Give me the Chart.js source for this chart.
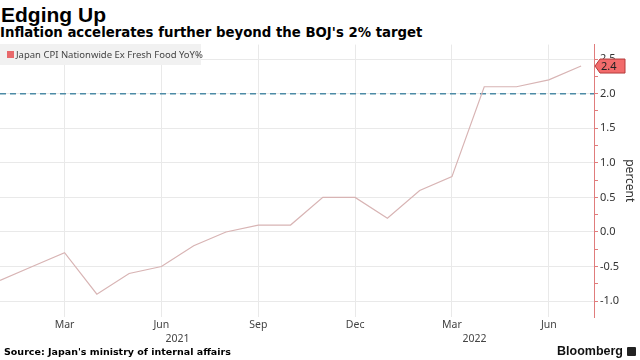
<!DOCTYPE html>
<html>
<head>
<meta charset="utf-8">
<script src="https://cdn.jsdelivr.net/npm/chart.js@4/dist/chart.umd.min.js"></script>
<style>
  body { margin: 0; width: 640px; height: 360px; background: #fff; position: relative; overflow: hidden; font-family: "Liberation Sans", sans-serif; }
  #title { position: absolute; left: 1px; top: 3px; font: bold 21px "Liberation Sans", sans-serif; color: #000; }
  #subtitle { position: absolute; left: 0; top: 25px; font: bold 13.3px "DejaVu Sans", sans-serif; color: #000; white-space: nowrap; }
  #wrap { position: absolute; left: 0; top: 36px; width: 640px; height: 312px; }
  #legend { position: absolute; left: 0; top: 44px; width: 201px; height: 21px; background: #f1f1f1; font: 9.5px "Noto Sans", sans-serif; color: #444; line-height: 21px; white-space: nowrap; }
  #legend i { position: absolute; left: 7px; top: 7px; width: 7px; height: 7px; background: #e8696b; }
  #legend span { position: absolute; left: 16px; top: 0; }
  #source { position: absolute; left: 4px; top: 346px; font: bold 9.5px "DejaVu Sans", sans-serif; color: #000; white-space: nowrap; }
  #brand { position: absolute; right: 17px; top: 344px; font: bold 12.5px "Liberation Sans", sans-serif; color: #111; }
  #logo { position: absolute; right: 4px; top: 347px; width: 9px; height: 9px; background: #222; border-radius: 1px; }
</style>
</head>
<body>
<div id="title">Edging Up</div>
<div id="subtitle">Inflation accelerates further beyond the BOJ's 2% target</div>
<div id="wrap"><canvas id="cpi"></canvas></div>
<div id="legend"><i></i><span>Japan CPI Nationwide Ex Fresh Food YoY%</span></div>
<div id="source">Source: Japan's ministry of internal affairs</div>
<div id="brand">Bloomberg</div>
<div id="logo"></div>
<script>
// monthly readings, Jan 2021 .. Jul 2022
const months = ["Jan", "Feb", "Mar", "Apr", "May", "Jun", "Jul", "Aug", "Sep", "Oct", "Nov", "Dec",
                "Jan", "Feb", "Mar", "Apr", "May", "Jun", "Jul"];
const cpiValues = [-0.7, -0.5, -0.3, -0.9, -0.6, -0.5, -0.2, 0.0, 0.1, 0.1, 0.5, 0.5,
                   0.2, 0.6, 0.8, 2.1, 2.1, 2.2, 2.4];
const xTicks = [2, 5, 8, 11, 14, 17];
const yearLabels = ["2021", "2022"];
const yearPos = [5.5, 14.7];
const yTicks = [-1.0, -0.5, 0.0, 0.5, 1.0, 1.5, 2.0, 2.5];
const bojTarget = 2.0;

const points = cpiValues.map((v, i) => ({ x: i, y: v }));

// minor ticks halfway between labelled ones
const yAllTicks = [];
yTicks.forEach((t, i) => {
  yAllTicks.push(t);
  if (i < yTicks.length - 1) yAllTicks.push((t + yTicks[i + 1]) / 2);
});
const isMajor = v => yTicks.some(t => Math.abs(t - v) < 1e-6);

const extras = {
  id: "extras",
  beforeDatasetsDraw(chart) {
    const { ctx, chartArea, scales } = chart;
    const y = scales.y.getPixelForValue(bojTarget);
    ctx.save();
    ctx.strokeStyle = "#4d8ba6";
    ctx.lineWidth = 1.5;
    ctx.setLineDash([6, 4]);
    ctx.beginPath();
    ctx.moveTo(chartArea.left, y);
    ctx.lineTo(chartArea.right, y);
    ctx.stroke();
    ctx.restore();
  },
  afterDraw(chart) {
    const { ctx, chartArea, scales } = chart;
    // year labels under the month ticks
    ctx.save();
    ctx.font = "10.5px 'Noto Sans'";
    ctx.fillStyle = "#444";
    ctx.textAlign = "center";
    ctx.textBaseline = "middle";
    yearLabels.forEach((t, i) => {
      ctx.fillText(t, scales.x.getPixelForValue(yearPos[i]), chartArea.bottom + 22);
    });
    // last value flag
    const last = cpiValues[cpiValues.length - 1];
    const y = scales.y.getPixelForValue(last);
    const x0 = chartArea.right + 1;
    ctx.beginPath();
    ctx.moveTo(x0, y);
    ctx.lineTo(x0 + 5, y - 7);
    ctx.lineTo(x0 + 30, y - 7);
    ctx.lineTo(x0 + 30, y + 7);
    ctx.lineTo(x0 + 5, y + 7);
    ctx.closePath();
    ctx.fillStyle = "#f26b6b";
    ctx.fill();
    ctx.strokeStyle = "#b53a3a";
    ctx.lineWidth = 1;
    ctx.stroke();
    ctx.fillStyle = "#222";
    ctx.font = "11px 'Noto Sans'";
    ctx.textAlign = "left";
    ctx.fillText(last.toFixed(1), x0 + 6, y + 0.5);
    ctx.restore();
  }
};

new Chart(document.getElementById("cpi"), {
  type: "line",
  data: {
    datasets: [{
      label: "Japan CPI Nationwide Ex Fresh Food YoY%",
      data: points,
      borderColor: "#d8b4b4",
      borderWidth: 1.2,
      pointRadius: 0,
      tension: 0
    }]
  },
  options: {
    responsive: true,
    maintainAspectRatio: false,
    animation: false,
    layout: { padding: { top: 2, left: 0, right: 0, bottom: 0 } },
    plugins: { legend: { display: false }, tooltip: { enabled: false } },
    scales: {
      x: {
        type: "linear",
        min: 0,
        max: 18.4,
        afterBuildTicks: s => { s.ticks = xTicks.map(v => ({ value: v })); },
        afterFit: s => { s.height = 31; },
        border: { display: false },
        grid: { color: "#e9e9e9", drawTicks: false },
        ticks: {
          padding: 2,
          maxRotation: 0,
          color: "#444",
          font: { family: "Noto Sans", size: 10.5 },
          callback: v => months[v]
        }
      },
      y: {
        position: "right",
        min: -1.23,
        max: 2.71,
        afterBuildTicks: s => { s.ticks = yAllTicks.map(v => ({ value: v })); },
        afterFit: s => { s.width = 46; },
        border: { color: "#e07c7c", width: 1 },
        grid: {
          color: c => isMajor(c.tick.value) ? "#e9e9e9" : "rgba(0,0,0,0)",
          tickColor: "#e07c7c",
          tickLength: 4
        },
        ticks: {
          padding: 2,
          color: "#333",
          font: { family: "Noto Sans", size: 11 },
          callback: v => isMajor(v) ? v.toFixed(1) : ""
        },
        title: {
          display: true,
          text: "percent",
          color: "#333",
          font: { family: "Noto Sans", size: 12 },
          padding: { top: 3, bottom: 0 }
        }
      }
    }
  },
  plugins: [extras]
});
</script>
</body>
</html>
